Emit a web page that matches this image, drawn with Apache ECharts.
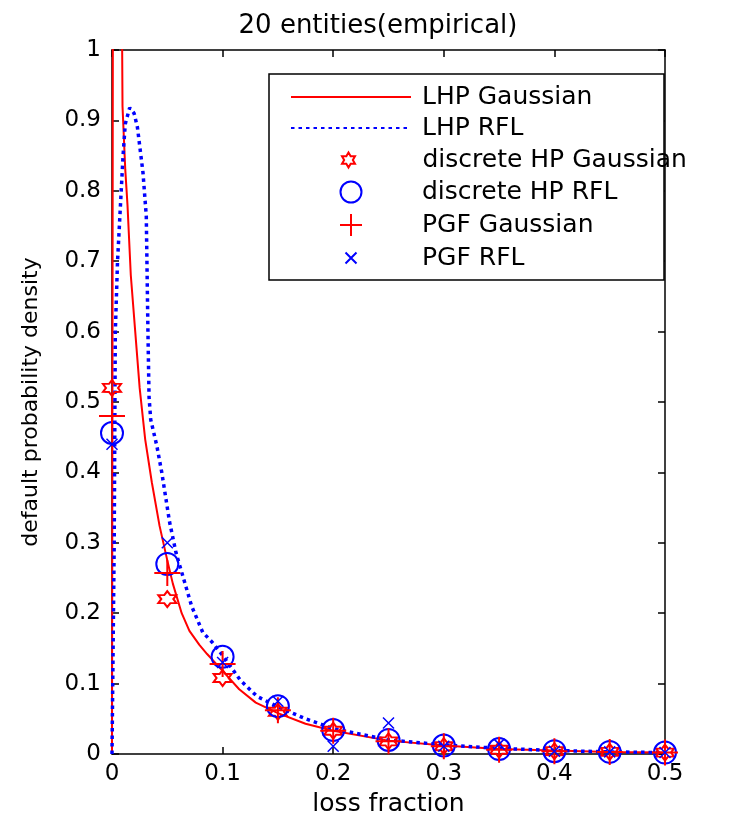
<!DOCTYPE html>
<html>
<head>
<meta charset="utf-8">
<script src="https://cdn.jsdelivr.net/npm/echarts@6/dist/echarts.min.js"></script>
<style>html,body{margin:0;padding:0;background:#fff}#c{width:756px;height:825px}</style>
</head>
<body>
<div id="c"></div>
<script>
// ---- data ----
const titleText = '20 entities(empirical)';
const xName = 'loss fraction';
const yName = 'default probability density';
const xTicks = [0, 0.1, 0.2, 0.3, 0.4, 0.5];
const yTicks = [0, 0.1, 0.2, 0.3, 0.4, 0.5, 0.6, 0.7, 0.8, 0.9, 1];

const lhpGaussX = [0, 0.0012, 0.009, 0.0095, 0.012, 0.014, 0.017, 0.021, 0.025, 0.030, 0.036, 0.043, 0.050, 0.055, 0.063, 0.070, 0.079, 0.086, 0.100, 0.115, 0.130, 0.150, 0.175, 0.200, 0.250, 0.300, 0.350, 0.400, 0.450, 0.500];
const lhpGaussY = [0, 1.60, 1.05, 0.92, 0.83, 0.78, 0.68, 0.60, 0.52, 0.447, 0.386, 0.324, 0.275, 0.242, 0.200, 0.175, 0.155, 0.142, 0.118, 0.092, 0.073, 0.058, 0.043, 0.033, 0.019, 0.012, 0.007, 0.005, 0.003, 0.002];

const lhpRflX = [0, 0.002, 0.003, 0.005, 0.007, 0.010, 0.012, 0.016, 0.020, 0.023, 0.028, 0.031, 0.0325, 0.0335, 0.035, 0.0405, 0.045, 0.052, 0.058, 0.064, 0.072, 0.082, 0.091, 0.100, 0.116, 0.131, 0.150, 0.175, 0.200, 0.250, 0.300, 0.350, 0.400, 0.450, 0.500];
const lhpRflY = [0, 0.30, 0.60, 0.70, 0.76, 0.85, 0.895, 0.918, 0.91, 0.89, 0.826, 0.764, 0.60, 0.507, 0.475, 0.438, 0.40, 0.33, 0.285, 0.253, 0.21, 0.173, 0.158, 0.140, 0.105, 0.082, 0.067, 0.050, 0.036, 0.020, 0.013, 0.008, 0.005, 0.003, 0.002];

const markerX = [0, 0.05, 0.1, 0.15, 0.2, 0.25, 0.3, 0.35, 0.4, 0.45, 0.5];
const hpGauss = [0.52, 0.22, 0.108, 0.060, 0.033, 0.018, 0.011, 0.006, 0.004, 0.003, 0.002];
const hpRfl = [0.456, 0.27, 0.138, 0.068, 0.034, 0.020, 0.012, 0.007, 0.004, 0.003, 0.002];
const pgfGauss = [0.48, 0.257, 0.128, 0.062, 0.033, 0.018, 0.011, 0.006, 0.004, 0.003, 0.002];
const pgfRfl = [0.44, 0.30, 0.13, 0.075, 0.011, 0.044, 0.011, 0.014, 0.004, 0.003, 0.002];

const names = ['LHP Gaussian', 'LHP RFL', 'discrete HP Gaussian', 'discrete HP RFL', 'PGF Gaussian', 'PGF RFL'];

// ---- build ----
function zip(xs, ys) { return xs.map((x, i) => [x, ys[i]]); }
function hexagram() {
  let p = '';
  for (let k = 0; k < 12; k++) {
    const a = Math.PI / 2 + k * Math.PI / 6;
    const r = k % 2 === 0 ? 10 : 5.8;
    const x = 10 + r * Math.cos(a), y = 10 - r * Math.sin(a);
    p += (k === 0 ? 'M' : 'L') + x.toFixed(2) + ',' + y.toFixed(2);
  }
  return 'path://' + p + 'Z';
}
const RED = '#ff0000', BLUE = '#0000ff';
const font = 'DejaVu Sans';
const fmt = v => String(Math.round(v * 10) / 10);

// legend layout (one legend per entry so every icon can have its own size)
const legendRows = [97, 128, 160, 192, 225, 258];
const legendIcon = [[120, 20, 290], [120, 20, 290], [18, 15, 341], [21, 21, 339.5], [22, 22, 339], [11, 11, 344.5]];
const legendTextX = 421;
const legends = names.map((n, i) => {
  const [w, h, left] = legendIcon[i];
  return {
    data: [i < 2 ? {name: n, itemStyle: {opacity: 0}} : n],
    left: left, top: legendRows[i] - 15, itemWidth: w, itemHeight: h, padding: 0,
    textStyle: {fontFamily: font, fontSize: 25, color: '#000', lineHeight: 30,
      padding: [0, 0, 0, legendTextX - (left + w + 5) + (i === 2 ? 3 : 0)]}
  };
});

const chart = echarts.init(document.getElementById('c'), null, {renderer: 'canvas'});
const axisCommon = {
  axisLine: {show: true, onZero: false, lineStyle: {color: '#000', width: 1.5}},
  axisTick: {show: true, inside: true, length: 7, lineStyle: {color: '#000', width: 1.5}},
  splitLine: {show: false}
};
const mk = (c, bw) => ({color: 'rgba(0,0,0,0)', borderColor: c, borderWidth: bw, opacity: 1});
chart.setOption({
  animation: false,
  backgroundColor: '#fff',
  textStyle: {fontFamily: font},
  title: {text: titleText, left: 'center', top: 8,
    textStyle: {fontFamily: font, fontSize: 26, fontWeight: 'normal', color: '#000'}},
  grid: {left: 112, right: 91, top: 50, bottom: 71, containLabel: false},
  xAxis: [
    Object.assign({type: 'value', min: 0, max: 0.5, interval: 0.1, position: 'bottom',
      name: xName, nameLocation: 'middle', nameGap: 38,
      nameTextStyle: {fontFamily: font, fontSize: 25, color: '#000'},
      axisLabel: {formatter: fmt, fontSize: 23, color: '#000', margin: 9, fontFamily: font}}, axisCommon),
    Object.assign({type: 'value', min: 0, max: 0.5, interval: 0.1, position: 'top',
      axisLabel: {show: false}}, axisCommon)
  ],
  yAxis: [
    Object.assign({type: 'value', min: 0, max: 1, interval: 0.1, position: 'left',
      name: yName, nameLocation: 'middle', nameGap: 70,
      nameTextStyle: {fontFamily: font, fontSize: 22, color: '#000'},
      axisLabel: {formatter: fmt, fontSize: 23, color: '#000', margin: 11, fontFamily: font}}, axisCommon),
    Object.assign({type: 'value', min: 0, max: 1, interval: 0.1, position: 'right',
      axisLabel: {show: false}}, axisCommon)
  ],
  legend: legends,
  graphic: [{type: 'rect', shape: {x: 269, y: 74, width: 395, height: 206}, z: 3,
    style: {fill: '#fff', stroke: '#000', lineWidth: 1.5}}],
  series: [
    {name: names[0], type: 'line', data: zip(lhpGaussX, lhpGaussY), symbol: 'none', clip: true,
      lineStyle: {color: RED, width: 2}, itemStyle: {color: RED}, z: 2},
    {name: names[1], type: 'line', data: zip(lhpRflX, lhpRflY), symbol: 'none', clip: true,
      lineStyle: {color: BLUE, width: 3.5, type: [3.5, 4]}, itemStyle: {color: BLUE}, z: 2},
    {name: names[2], type: 'scatter', data: zip(markerX, hpGauss), symbol: hexagram(), symbolSize: [18, 16],
      itemStyle: mk(RED, 2), z: 2},
    {name: names[3], type: 'scatter', data: zip(markerX, hpRfl), symbol: 'circle', symbolSize: 22,
      itemStyle: mk(BLUE, 2), z: 2},
    {name: names[4], type: 'scatter', data: zip(markerX, pgfGauss), symbol: 'path://M10,0L10,20M0,10L20,10', symbolSize: 26,
      itemStyle: mk(RED, 2), z: 2},
    {name: names[5], type: 'scatter', data: zip(markerX, pgfRfl), symbol: 'path://M0,0L10,10M10,0L0,10', symbolSize: 11,
      itemStyle: mk(BLUE, 1.5), z: 2}
  ]
});
</script>
</body>
</html>
